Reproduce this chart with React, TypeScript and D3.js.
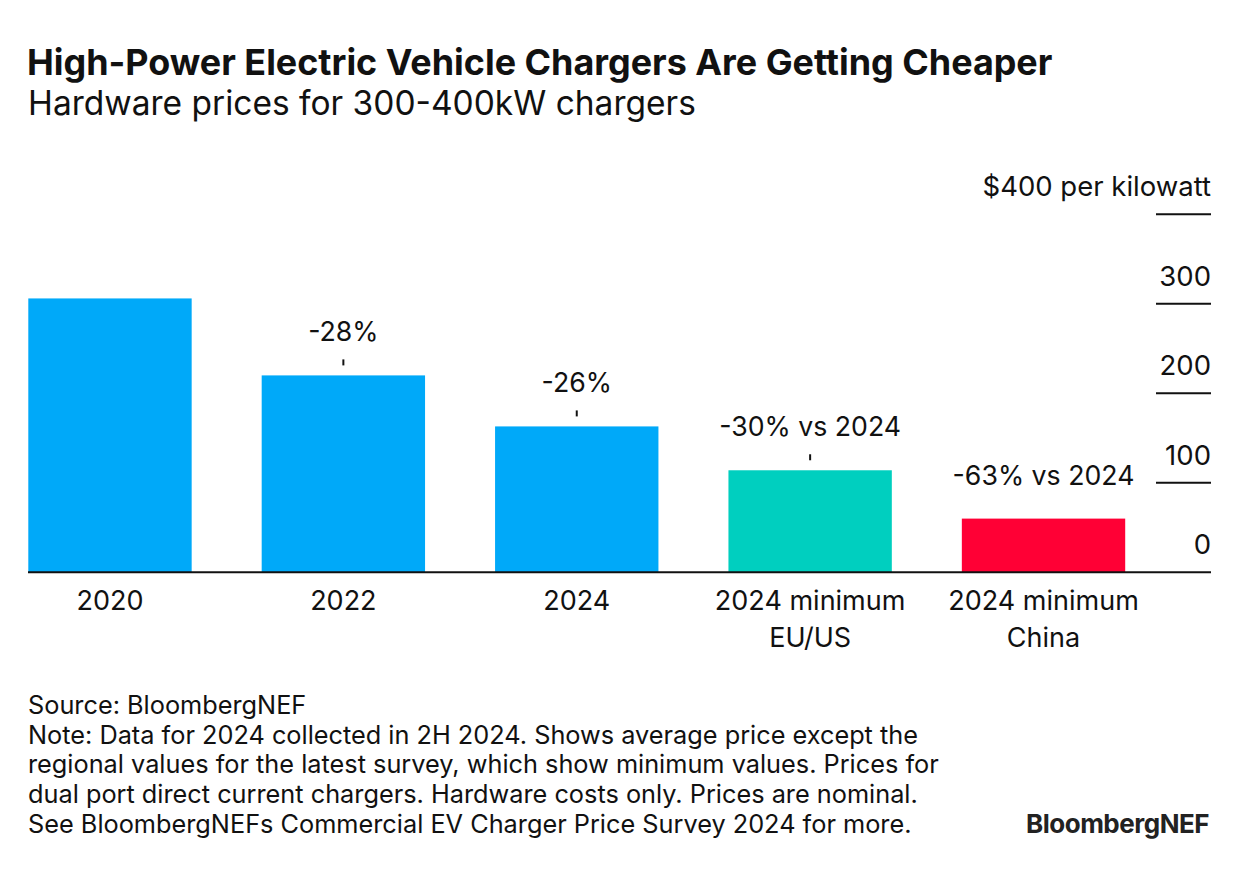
import React from "react";
import * as d3 from "d3";

const categories: string[][] = [
  ["2020"],
  ["2022"],
  ["2024"],
  ["2024 minimum", "EU/US"],
  ["2024 minimum", "China"],
];
const prices: number[] = [306, 220, 163, 114, 60];
const changeLabels: string[] = ["", "-28%", "-26%", "-30% vs 2024", "-63% vs 2024"];
const showTick: boolean[] = [false, true, true, true, false];
const barColors: string[] = ["#00a9f9", "#00a9f9", "#00a9f9", "#00cfbf", "#ff0035"];
const yTicks: number[] = [0, 100, 200, 300, 400];
const yTickLabels: string[] = ["0", "100", "200", "300", "$400 per kilowatt"];

const title = "High-Power Electric Vehicle Chargers Are Getting Cheaper";
const subtitle = "Hardware prices for 300-400kW chargers";
const footerLines: string[] = [
  "Source: BloombergNEF",
  "Note: Data for 2024 collected in 2H 2024. Shows average price except the",
  "regional values for the latest survey, which show minimum values. Prices for",
  "dual port direct current chargers. Hardware costs only. Prices are nominal.",
  "See BloombergNEFs Commercial EV Charger Price Survey 2024 for more.",
];

const W = 1240;
const H = 880;
const FONT = "Inter, 'Liberation Sans', Arial, sans-serif";
const INK = "#111111";

export default function App() {
  const x = d3
    .scaleBand<number>()
    .domain(d3.range(prices.length))
    .range([28.3, 1125.2])
    .paddingInner(0.3)
    .paddingOuter(0);
  const y = d3.scaleLinear().domain([0, 400]).range([572.3, 214.3]);

  return (
    <svg
      width={W}
      height={H}
      viewBox={`0 0 ${W} ${H}`}
      style={{ position: "absolute", left: 0, top: 0, background: "#fff", fontFamily: FONT }}
    >
      <rect width={W} height={H} fill="#ffffff" />
      <text x={27} y={75} fontSize={35.9} fontWeight={700} fill={INK}>
        {title}
      </text>
      <text x={28} y={115} fontSize={33.5} fill={INK}>
        {subtitle}
      </text>

      {/* y gridline stubs and labels */}
      {yTicks.map((t, i) => (
        <g key={"yt" + t}>
          {t > 0 && (
            <line x1={1156} x2={1211} y1={y(t)} y2={y(t)} stroke={INK} strokeWidth={2} />
          )}
          <text x={1211} y={y(t) - 18} fontSize={27.5} textAnchor="end" fill={INK}>
            {yTickLabels[i]}
          </text>
        </g>
      ))}

      {/* bars */}
      {prices.map((v, i) => (
        <rect
          key={"b" + i}
          x={x(i)}
          y={y(v)}
          width={x.bandwidth()}
          height={y(0) - y(v)}
          fill={barColors[i]}
        />
      ))}

      {/* baseline */}
      <line x1={28} x2={1211} y1={y(0)} y2={y(0)} stroke={INK} strokeWidth={2} />

      {/* change annotations */}
      {prices.map((v, i) => {
        const cx = (x(i) as number) + x.bandwidth() / 2;
        return (
          <g key={"a" + i}>
            {changeLabels[i] && (
              <text x={cx} y={y(v) - 34} fontSize={26.7} textAnchor="middle" fill={INK}>
                {changeLabels[i]}
              </text>
            )}
            {showTick[i] && (
              <line x1={cx} x2={cx} y1={y(v) - 16} y2={y(v) - 10} stroke={INK} strokeWidth={2} />
            )}
          </g>
        );
      })}

      {/* category labels */}
      {categories.map((lines, i) => {
        const cx = (x(i) as number) + x.bandwidth() / 2;
        return (
          <text key={"c" + i} x={cx} y={610} fontSize={27} textAnchor="middle" fill={INK}>
            {lines.map((ln, j) => (
              <tspan key={j} x={cx} dy={j === 0 ? 0 : 37}>
                {ln}
              </tspan>
            ))}
          </text>
        );
      })}

      {/* footer */}
      <text x={28} y={714} fontSize={25.3} fill={INK}>
        {footerLines.map((ln, j) => (
          <tspan key={j} x={28} dy={j === 0 ? 0 : 29.7}>
            {ln}
          </tspan>
        ))}
      </text>
      <text x={1209} y={833} fontSize={26} fontWeight={700} textAnchor="end" fill="#222" letterSpacing={-0.5}>
        BloombergNEF
      </text>
    </svg>
  );
}
